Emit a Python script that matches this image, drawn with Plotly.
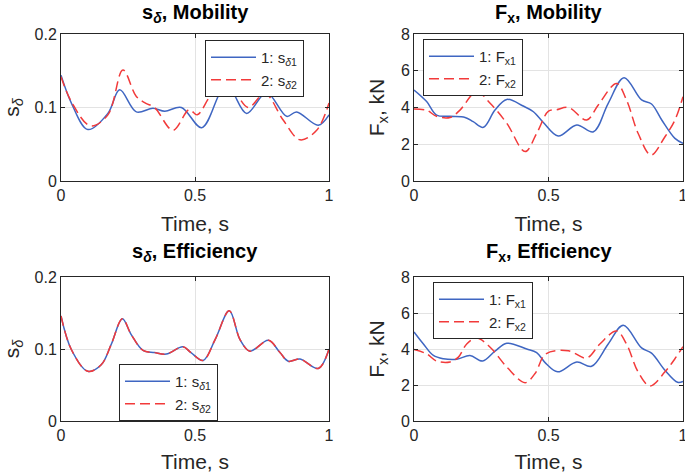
import plotly.graph_objects as go

# ---------------- data ----------------
# s_delta, Mobility
t_sm1 = [0, 0.04, 0.10, 0.175, 0.219, 0.281, 0.343, 0.387, 0.449, 0.525, 0.593, 0.62, 0.643, 0.693, 0.767, 0.842, 0.879, 0.96, 1.0]
s_sm1 = [0.144, 0.105, 0.070, 0.092, 0.124, 0.094, 0.099, 0.095, 0.100, 0.0725, 0.12, 0.132, 0.12, 0.092, 0.120, 0.088, 0.094, 0.076, 0.090]
t_sm2 = [0, 0.04, 0.11, 0.175, 0.231, 0.281, 0.315, 0.349, 0.418, 0.478, 0.508, 0.556, 0.61, 0.655, 0.699, 0.761, 0.829, 0.892, 0.954, 1.0]
s_sm2 = [0.142, 0.107, 0.075, 0.090, 0.151, 0.115, 0.106, 0.100, 0.069, 0.097, 0.090, 0.115, 0.135, 0.118, 0.100, 0.119, 0.083, 0.056, 0.069, 0.106]

# F_x, Mobility
t_fm1 = [0, 0.047, 0.084, 0.134, 0.19, 0.22, 0.258, 0.301, 0.345, 0.406, 0.444, 0.48, 0.536, 0.605, 0.667, 0.722, 0.781, 0.846, 0.883, 0.921, 0.97, 1.0]
f_fm1 = [4.95, 4.32, 3.59, 3.52, 3.46, 3.23, 2.92, 3.86, 4.44, 4.08, 3.77, 3.2, 2.45, 3.05, 2.68, 4.23, 5.62, 4.41, 4.19, 3.32, 2.32, 2.05]
t_fm2 = [0, 0.047, 0.084, 0.134, 0.171, 0.233, 0.283, 0.345, 0.413, 0.456, 0.5, 0.53, 0.574, 0.642, 0.685, 0.753, 0.79, 0.833, 0.881, 0.933, 0.97, 1.0]
f_fm2 = [3.92, 3.85, 3.52, 3.46, 3.86, 4.86, 4.23, 3.14, 1.60, 2.59, 3.80, 3.88, 4.0, 3.32, 4.14, 5.31, 4.41, 2.6, 1.41, 2.41, 3.32, 4.59]

# s_delta, Efficiency
t_se1 = [0, 0.039, 0.10, 0.15, 0.187, 0.229, 0.262, 0.306, 0.349, 0.393, 0.455, 0.485, 0.53, 0.575, 0.628, 0.668, 0.705, 0.774, 0.817, 0.848, 0.892, 0.96, 1.0]
s_se1 = [0.146, 0.099, 0.069, 0.078, 0.106, 0.142, 0.120, 0.098, 0.095, 0.093, 0.103, 0.095, 0.084, 0.113, 0.153, 0.113, 0.097, 0.112, 0.095, 0.083, 0.086, 0.073, 0.100]
t_se2 = [0, 0.039, 0.10, 0.15, 0.187, 0.229, 0.262, 0.306, 0.349, 0.393, 0.455, 0.485, 0.53, 0.575, 0.628, 0.668, 0.705, 0.774, 0.817, 0.848, 0.892, 0.96, 1.0]
s_se2 = [0.146, 0.099, 0.069, 0.078, 0.106, 0.142, 0.120, 0.098, 0.095, 0.093, 0.103, 0.095, 0.084, 0.113, 0.153, 0.113, 0.097, 0.112, 0.095, 0.083, 0.086, 0.073, 0.100]

# F_x, Efficiency
t_fe1 = [0, 0.035, 0.072, 0.109, 0.159, 0.208, 0.255, 0.301, 0.345, 0.419, 0.456, 0.49, 0.534, 0.605, 0.66, 0.722, 0.778, 0.846, 0.883, 0.933, 0.98, 1.0]
f_fe1 = [4.95, 4.28, 3.64, 3.46, 3.43, 3.64, 3.33, 3.88, 4.32, 4.0, 3.8, 3.2, 2.73, 3.28, 3.04, 4.28, 5.32, 4.06, 3.77, 2.82, 2.15, 2.2]
t_fe2 = [0, 0.047, 0.084, 0.134, 0.165, 0.196, 0.233, 0.283, 0.345, 0.413, 0.45, 0.49, 0.574, 0.642, 0.691, 0.753, 0.79, 0.833, 0.877, 0.933, 0.97, 1.0]
f_fe2 = [3.97, 3.73, 3.33, 3.28, 3.55, 4.28, 4.61, 4.1, 3.0, 2.13, 2.64, 3.73, 3.9, 3.5, 4.28, 5.0, 4.28, 2.73, 1.95, 2.73, 3.46, 4.13]

x_ticks = [0, 0.5, 1]
x_ticktext = ["0", "0.5", "1"]
s_ticks = [0, 0.1, 0.2]
s_ticktext = ["0", "0.1", "0.2"]
f_ticks = [0, 2, 4, 6, 8]
f_ticktext = ["0", "2", "4", "6", "8"]

titles = ["<b>s<sub><i>δ</i></sub>, Mobility</b>", "<b>F<sub>x</sub>, Mobility</b>",
          "<b>s<sub><i>δ</i></sub>, Efficiency</b>", "<b>F<sub>x</sub>, Efficiency</b>"]

# ---------------- style ----------------
W, H = 685, 473
BLUE = "#3f66c2"
RED = "#f23a3a"
AX = "#262626"
GRID = "#e3e3e3"
FONT = "Liberation Sans, Arial, sans-serif"

def px(x):
    return x / W

def py(y):
    return (H - y) / H

fig = go.Figure()

panels = [
    (t_sm1, s_sm1, t_sm2, s_sm2, "1: s<sub><i>δ</i>1</sub>", "2: s<sub><i>δ</i>2</sub>", "x", "y", "legend"),
    (t_fm1, f_fm1, t_fm2, f_fm2, "1: F<sub>x1</sub>", "2: F<sub>x2</sub>", "x2", "y2", "legend2"),
    (t_se1, s_se1, t_se2, s_se2, "1: s<sub><i>δ</i>1</sub>", "2: s<sub><i>δ</i>2</sub>", "x3", "y3", "legend3"),
    (t_fe1, f_fe1, t_fe2, f_fe2, "1: F<sub>x1</sub>", "2: F<sub>x2</sub>", "x4", "y4", "legend4"),
]

for ta, va, tb, vb, na, nb, xa, ya, lg in panels:
    fig.add_trace(go.Scatter(x=ta, y=va, mode="lines", name=na, xaxis=xa, yaxis=ya, legend=lg,
                             line=dict(color=BLUE, width=1.5, shape="spline", smoothing=1.0)))
    fig.add_trace(go.Scatter(x=tb, y=vb, mode="lines", name=nb, xaxis=xa, yaxis=ya, legend=lg,
                             line=dict(color=RED, width=1.5, dash="10px,5px", shape="spline", smoothing=1.0)))

xdom_l = [px(61), px(329)]
xdom_r = [px(414), px(683)]
ydom_t = [py(181), py(34)]
ydom_b = [py(421), py(277)]

common = dict(showline=True, linecolor=AX, linewidth=1, mirror="ticks", ticks="inside", ticklen=4,
              tickcolor=AX, showgrid=True, gridcolor=GRID, gridwidth=1, zeroline=False, automargin=False,
              tickfont=dict(family=FONT, size=16, color=AX), fixedrange=True, ticklabeloverflow="allow")

def xax(dom, anchor):
    return dict(domain=dom, anchor=anchor, range=[0, 1], tickvals=x_ticks, ticktext=x_ticktext,
                title=dict(text="Time, s", font=dict(family=FONT, size=21, color=AX), standoff=13), **common)

def yax(dom, anchor, rng, tv, tt, label):
    return dict(domain=dom, anchor=anchor, range=rng, tickvals=tv, ticktext=tt,
                title=dict(text=label, font=dict(family=FONT, size=21, color=AX), standoff=10), **common)

leg_common = dict(bgcolor="white", bordercolor=AX, borderwidth=1, font=dict(family=FONT, size=15, color=AX),
                  xanchor="left", yanchor="top", tracegroupgap=0, itemwidth=45)

fig.update_layout(
    width=W, height=H, margin=dict(l=0, r=0, t=0, b=0, autoexpand=False),
    paper_bgcolor="white", plot_bgcolor="white",
    xaxis=xax(xdom_l, "y"), yaxis=yax(ydom_t, "x", [0, 0.2], s_ticks, s_ticktext, "s<sub><i>δ</i></sub>"),
    xaxis2=xax(xdom_r, "y2"), yaxis2=yax(ydom_t, "x2", [0, 8], f_ticks, f_ticktext, "F<sub>x</sub>, kN"),
    xaxis3=xax(xdom_l, "y3"), yaxis3=yax(ydom_b, "x3", [0, 0.2], s_ticks, s_ticktext, "s<sub><i>δ</i></sub>"),
    xaxis4=xax(xdom_r, "y4"), yaxis4=yax(ydom_b, "x4", [0, 8], f_ticks, f_ticktext, "F<sub>x</sub>, kN"),
    legend=dict(x=px(205), y=py(40), **leg_common),
    legend2=dict(x=px(423), y=py(39), **leg_common),
    legend3=dict(x=px(119), y=py(364), **leg_common),
    legend4=dict(x=px(433), y=py(282), **leg_common),
    showlegend=True,
)

title_pos = [(195, -1.5), (548.5, -1.5), (195, 238), (548.5, 238)]
for txt, (cx, ty) in zip(titles, title_pos):
    fig.add_annotation(text=txt, x=px(cx), y=py(ty), xref="paper", yref="paper",
                       xanchor="center", yanchor="top", showarrow=False,
                       font=dict(family=FONT, size=20, color="black"))

fig.write_html("out.html", config={"displayModeBar": False},
               post_script="document.body.style.margin='0';document.body.style.overflow='hidden';")
